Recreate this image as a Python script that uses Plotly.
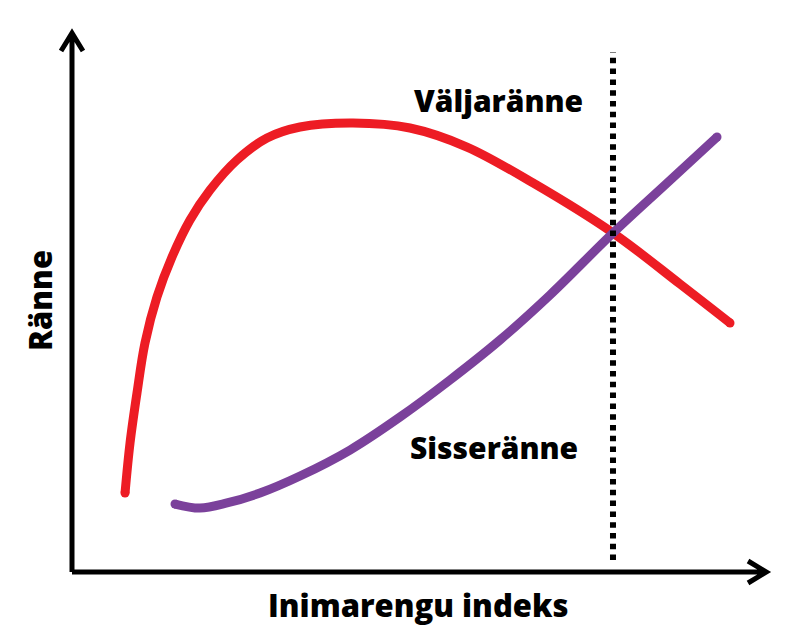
import plotly.graph_objects as go

# --- data (index 0-100 / rate 0-100) ------------------------------------------
red_x = [7.63, 8.35, 9.35, 10.50, 12.23, 14.39, 16.98, 19.86, 23.74, 28.06, 32.81,
         40.43, 48.63, 56.83, 66.33, 77.84, 87.48, 94.68]
red_y = [14.63, 23.89, 33.15, 42.41, 50.93, 58.33, 65.19, 70.74, 76.30, 80.37, 82.41,
         83.15, 82.22, 78.70, 72.04, 62.78, 53.33, 46.11]

purple_x = [14.82, 18.42, 22.30, 27.05, 32.81, 40.00, 47.19, 54.39, 61.58, 68.78,
            77.84, 85.32, 92.81]
purple_y = [12.59, 11.85, 12.78, 14.63, 17.78, 22.59, 28.70, 35.56, 42.96, 51.30,
            62.78, 71.67, 80.56]

crossing_x = 77.84

labels = ["Väljaränne", "Sisseränne"]
x_title = "Inimarengu indeks"
y_title = "Ränne"

# --- style -------------------------------------------------------------------
_RED = "#ED1C24"
_PURPLE = "#7B419B"
_INK = "#000000"
_FONT = "Open Sans, Arial, sans-serif"
_W = 9

fig = go.Figure()


def curve(xs, ys, color):
    fig.add_trace(go.Scatter(x=xs, y=ys, mode="lines",
                             line=dict(color=color, width=_W, shape="spline", smoothing=1.0),
                             hoverinfo="skip", showlegend=False, cliponaxis=False))
    # round caps at both ends
    fig.add_trace(go.Scatter(x=[xs[0], xs[-1]], y=[ys[0], ys[-1]], mode="markers",
                             marker=dict(color=color, size=_W, line=dict(width=0)),
                             hoverinfo="skip", showlegend=False, cliponaxis=False))


curve(red_x, red_y, _RED)
curve(purple_x, purple_y, _PURPLE)

# dotted marker line through the crossing point
fig.add_shape(type="line", xref="x", yref="paper", x0=crossing_x, x1=crossing_x,
              y0=0.022, y1=0.963, line=dict(color=_INK, width=6, dash="5.5px,5.3px"))

# axes with chevron arrowheads
fig.add_shape(type="path", xref="paper", yref="paper",
              path="M 0,0 L 0.999,0 M 0.9727,0.0204 L 0.999,0 L 0.9727,-0.0204",
              line=dict(color=_INK, width=5))
fig.add_shape(type="path", xref="paper", yref="paper",
              path="M 0,0 L 0,0.998 M -0.0158,0.9648 L 0,0.998 L 0.0158,0.9648",
              line=dict(color=_INK, width=5))

lab_font = dict(family=_FONT, size=30, color=_INK, weight=800)
fig.add_annotation(text=labels[0], x=61.4, y=87.4, showarrow=False, font=lab_font,
                   xanchor="center", yanchor="middle")
fig.add_annotation(text=labels[1], x=60.7, y=23.1, showarrow=False, font=lab_font,
                   xanchor="center", yanchor="middle")

ax_font = dict(family=_FONT, size=31, color=_INK, weight=800)
fig.add_annotation(text=x_title, xref="paper", yref="paper", x=0.498, y=-0.061,
                   showarrow=False, font=ax_font, xanchor="center", yanchor="middle")
fig.add_annotation(text=y_title, xref="paper", yref="paper", x=-0.046, y=0.502,
                   showarrow=False, font=ax_font, textangle=-90,
                   xanchor="center", yanchor="middle")

fig.update_layout(
    width=800, height=644,
    margin=dict(l=64, r=41, t=24, b=80),
    paper_bgcolor="white", plot_bgcolor="white",
    xaxis=dict(range=[0, 100], visible=False),
    yaxis=dict(range=[0, 100], visible=False),
)

fig.write_html("out.html")
